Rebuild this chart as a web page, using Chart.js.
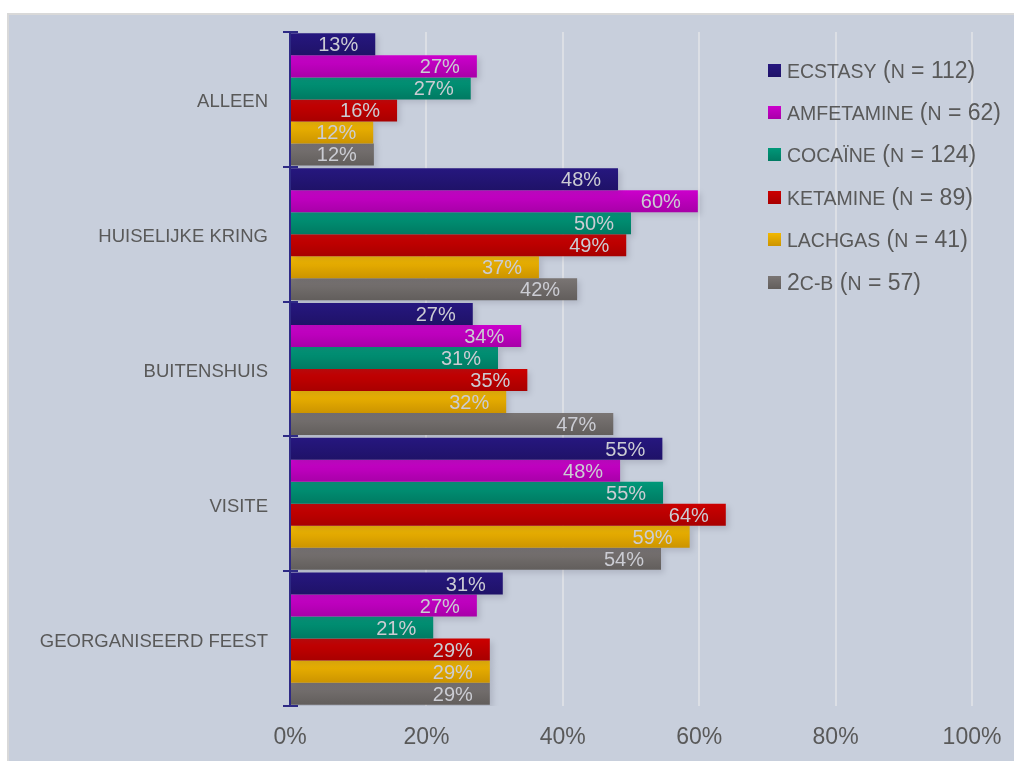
<!DOCTYPE html>
<html>
<head>
<meta charset="utf-8">
<script src="https://cdn.jsdelivr.net/npm/chart.js@4"></script>
<style>
  body { margin: 0; background: #fff; }
  #wrap { position: relative; width: 1014px; height: 761px; }
  #legend {
    position: absolute; left: 768px; top: 49px;
    font-family: "Liberation Sans", Arial, sans-serif; color: #595959;
  }
  .row { height: 42.4px; display: flex; align-items: center; white-space: pre; }
  .sw { width: 13px; height: 13px; margin-right: 6px; flex: none; }
  .big { font-size: 23px; }
  .sc { font-size: 19.5px; text-transform: uppercase; }
</style>
</head>
<body>
<div id="wrap">
  <canvas id="chart" width="1014" height="761"></canvas>
  <div id="legend"></div>
</div>
<script>
const categories = ["alleen", "huiselijke kring", "buitenshuis", "visite", "georganiseerd feest"];
const seriesNames = ["ecstasy", "amfetamine", "cocaïne", "ketamine", "lachgas", "2c-b"];
const seriesN = [112, 62, 124, 89, 41, 57];

const ecstasy = [12.5, 48.1, 26.8, 54.6, 31.2];
const amfetamine = [27.4, 59.8, 33.9, 48.4, 27.4];
const cocaine = [26.5, 50.0, 30.5, 54.7, 21.0];
const ketamine = [15.7, 49.3, 34.8, 63.9, 29.3];
const lachgas = [12.2, 36.5, 31.7, 58.6, 29.3];
const tweeCB = [12.3, 42.1, 47.4, 54.4, 29.3];

const xTicks = [0, 20, 40, 60, 80, 100];

const topColors = ["#26177f", "#cc00cc", "#009879", "#cc0000", "#f2b800", "#7a7574"];
const bottomColors = ["#1f1268", "#a800a8", "#007a62", "#a80000", "#cc9400", "#625e5c"];

const seriesValues = [ecstasy, amfetamine, cocaine, ketamine, lachgas, tweeCB];

function barFill(i) {
  return (c) => {
    const meta = c.chart.getDatasetMeta(c.datasetIndex);
    const el = meta.data[c.dataIndex];
    if (!el || typeof el.y !== "number" || !el.height) return topColors[i];
    const g = c.chart.ctx.createLinearGradient(0, el.y - el.height / 2, 0, el.y + el.height / 2);
    g.addColorStop(0, topColors[i]);
    g.addColorStop(1, bottomColors[i]);
    return g;
  };
}

const panelPlugin = {
  id: "panel",
  beforeDraw(chart) {
    const ctx = chart.ctx;
    ctx.save();
    ctx.fillStyle = "#ffffff";
    ctx.fillRect(0, 0, chart.width, chart.height);
    ctx.fillStyle = "#d9d9d9";
    ctx.fillRect(7, 13, chart.width - 7, chart.height - 13);
    ctx.fillStyle = "#c8cfdc";
    ctx.fillRect(9, 15, chart.width - 9, chart.height - 15);
    ctx.restore();
  }
};

const shadowPlugin = {
  id: "barShadow",
  beforeDatasetsDraw(chart) {
    const ctx = chart.ctx;
    ctx.save();
    ctx.shadowColor = "rgba(60,60,80,0.18)";
    ctx.shadowBlur = 6;
    ctx.shadowOffsetX = 3;
    ctx.shadowOffsetY = 3;
  },
  afterDatasetsDraw(chart) {
    chart.ctx.restore();
  }
};

const labelPlugin = {
  id: "valueLabels",
  afterDraw(chart) {
    const ctx = chart.ctx;
    ctx.save();
    ctx.font = "20px 'Liberation Sans', Arial, sans-serif";
    ctx.fillStyle = "#cbccd3";
    ctx.textAlign = "right";
    ctx.textBaseline = "middle";
    chart.data.datasets.forEach((ds, i) => {
      chart.getDatasetMeta(i).data.forEach((bar, j) => {
        ctx.fillText(Math.round(ds.data[j]) + "%", bar.x - 17, bar.y + 1.5);
      });
    });
    // short ticks crossing the category axis
    const y = chart.scales.y;
    ctx.strokeStyle = "#2e2a85";
    ctx.lineWidth = 2;
    for (let k = 0; k <= categories.length; k++) {
      const py = Math.round(y.getPixelForValue(k - 0.5));
      ctx.beginPath();
      ctx.moveTo(y.right, py);
      ctx.lineTo(y.right + 8, py);
      ctx.stroke();
    }
    ctx.restore();
  }
};

const chart = new Chart(document.getElementById("chart"), {
  type: "bar",
  data: {
    labels: categories,
    datasets: seriesNames.map((name, i) => ({
      label: name,
      data: seriesValues[i],
      backgroundColor: barFill(i),
      borderWidth: 0,
      categoryPercentage: 0.98,
      barPercentage: 1.0
    }))
  },
  options: {
    indexAxis: "y",
    responsive: false,
    animation: false,
    layout: { padding: { left: 8, right: 42, top: 32, bottom: 0 } },
    plugins: { legend: { display: false }, tooltip: { enabled: false } },
    scales: {
      x: {
        min: 0,
        max: 100,
        afterBuildTicks(scale) { scale.ticks = xTicks.map(v => ({ value: v })); },
        afterFit(scale) {
          scale.height = 55;
          scale.paddingLeft = 0;
          scale.paddingRight = 0;
        },
        ticks: {
          callback: v => v + "%",
          color: "#595959",
          font: { family: "'Liberation Sans', Arial, sans-serif", size: 23 },
          padding: 18
        },
        grid: {
          color: c => (c.tick && c.tick.value === 0 ? "rgba(0,0,0,0)" : "#dcdfe5"),
          lineWidth: 2,
          drawTicks: false
        },
        border: { display: false }
      },
      y: {
        afterFit(scale) { scale.width = 282; },
        ticks: {
          callback(v) { return this.getLabelForValue(v).toUpperCase(); },
          color: "#595959",
          font: { family: "'Liberation Sans', Arial, sans-serif", size: 18.5 },
          padding: 15,
          labelOffset: 3
        },
        grid: {
          drawOnChartArea: false,
          drawTicks: true,
          tickLength: 7,
          color: "#2e2a85",
          lineWidth: 2
        },
        border: { display: true, color: "#2e2a85", width: 2 }
      }
    }
  },
  plugins: [panelPlugin, shadowPlugin, labelPlugin]
});
chart.update();

// legend with small caps: lowercase letters drawn as smaller capitals
function smallCaps(text) {
  return text.replace(/([a-zà-ÿ\-]+)|([^a-zà-ÿ\-]+)/g, (m, low, rest) =>
    low ? '<span class="sc">' + low + "</span>" : '<span class="big">' + rest + "</span>");
}
const legend = document.getElementById("legend");
seriesNames.forEach((name, i) => {
  const row = document.createElement("div");
  row.className = "row";
  row.innerHTML = '<span class="sw" style="background:linear-gradient(' + topColors[i] + "," + bottomColors[i] + ')"></span>' +
    "<span>" + smallCaps(name + " (n = " + seriesN[i] + ")") + "</span>";
  legend.appendChild(row);
});
</script>
</body>
</html>
